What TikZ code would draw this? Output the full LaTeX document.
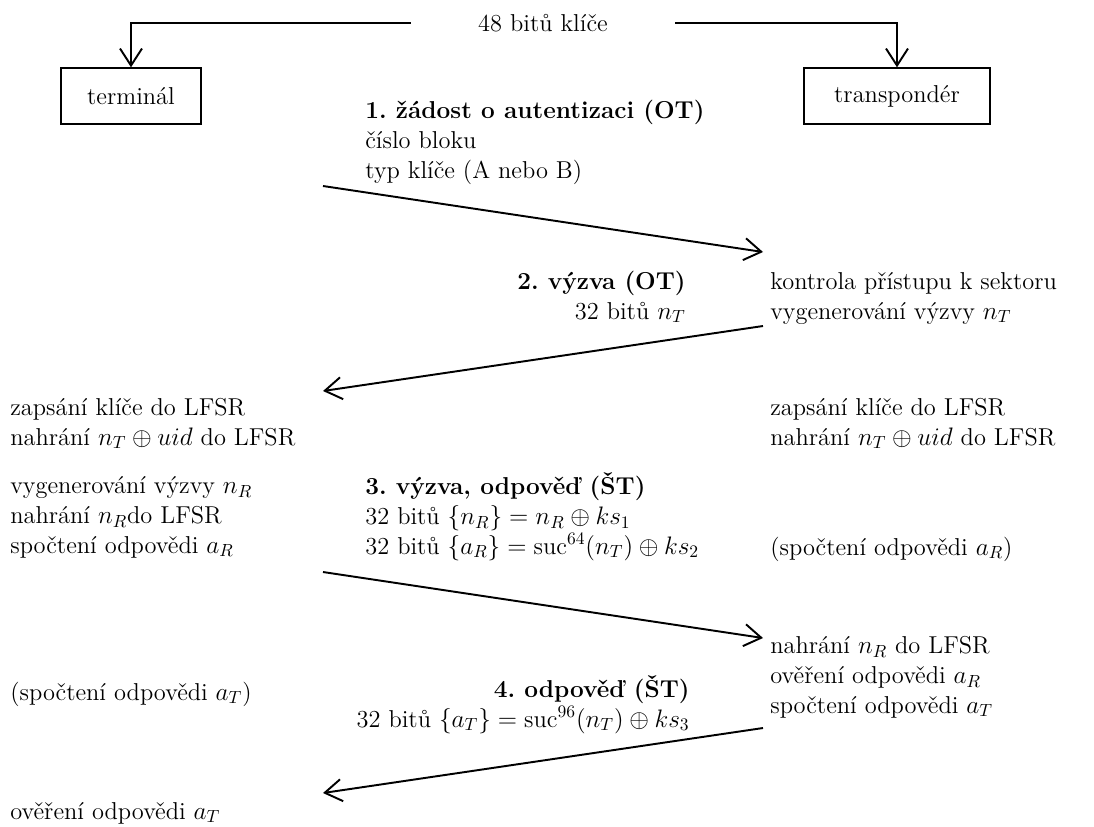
\documentclass[tikz,border=0pt]{standalone}
\usepackage{amsmath}
\usepackage{fontspec}
\usetikzlibrary{arrows.meta}

\tikzset{
  party/.style={draw, line width=0.8pt, minimum height=1.12cm, inner sep=0pt},
  txt/.style={inner sep=0pt, align=left, anchor=base west},
  txtr/.style={inner sep=0pt, align=right, anchor=base east},
  msg/.style={line width=1.1pt, -{Straight Barb[length=3.4mm,width=4.4mm,line width=1.1pt]}}
}
\newcommand{\sucfn}{\operatorname{suc}}
\frenchspacing

\begin{document}
\begin{tikzpicture}[x=0.02cm, y=-0.02cm, font=\fontsize{13.9}{16.8}\selectfont]
  \useasboundingbox (0,0) rectangle (1094,826);

  % Parties
  \node[party, minimum width=2.8cm] (term) at (131,96) {terminál};
  \node[party, minimum width=3.72cm] (trans) at (897,96) {transpondér};

  % Shared key
  \node[inner xsep=1.34cm] (key) at (543,23) {48 bitů klíče};
  \draw[msg] (key.west) -| (term.north);
  \draw[msg] (key.east) -| (trans.north);

  % 1. request (node base = last line)
  \node[txt] (req) at (365,178) {\textbf{1. žádost o autentizaci (OT)}\\číslo bloku\\typ klíče (A nebo B)};
  \coordinate (req-s) at (323,186);
  \coordinate (req-e) at (763,252);
  \draw[msg] (req-s) -- (req-e);
  \node[txt] (check) at (770,319) {kontrola přístupu k sektoru\\vygenerování výzvy $n_T$};

  % 2. challenge
  \node[txtr] (chal) at (686,319) {\textbf{2. výzva (OT)}\\32 bitů $n_T$};
  \coordinate (chal-s) at (763,326);
  \coordinate (chal-e) at (323,391);
  \draw[msg] (chal-s) -- (chal-e);
  \node[txt] (tload) at (10,445) {zapsání klíče do LFSR\\nahrání $n_T\oplus uid$ do LFSR};
  \node[txt] (rload) at (770,445) {zapsání klíče do LFSR\\nahrání $n_T\oplus uid$ do LFSR};
  \node[txt] (tgen) at (10,553) {vygenerování výzvy $n_R$\\nahrání $n_R$do LFSR\\spočtení odpovědi $a_R$};

  % 3. challenge, answer
  \node[txt] (resp) at (365,554) {\textbf{3. výzva, odpověď (ŠT)}\\32 bitů $\{n_R\}=n_R\oplus ks_1$\\32 bitů $\{a_R\}=\sucfn^{64}(n_T)\oplus ks_2$};
  \node[txt] (rcalc) at (770,555) {(spočtení odpovědi $a_R$)};
  \coordinate (resp-s) at (323,572);
  \coordinate (resp-e) at (763,638);
  \draw[msg] (resp-s) -- (resp-e);
  \node[txt] (rver) at (770,713) {nahrání $n_R$ do LFSR\\ověření odpovědi $a_R$\\spočtení odpovědi $a_T$};

  % 4. answer
  \node[txt] (tcalc) at (10,700) {(spočtení odpovědi $a_T$)};
  \node[txtr] (ans) at (690,727) {\textbf{4. odpověď (ŠT)}\\32 bitů $\{a_T\}=\sucfn^{96}(n_T)\oplus ks_3$};
  \coordinate (ans-s) at (763,728);
  \coordinate (ans-e) at (323,793);
  \draw[msg] (ans-s) -- (ans-e);
  \node[txt] (tver) at (10,819) {ověření odpovědi $a_T$};
\end{tikzpicture}
\end{document}
